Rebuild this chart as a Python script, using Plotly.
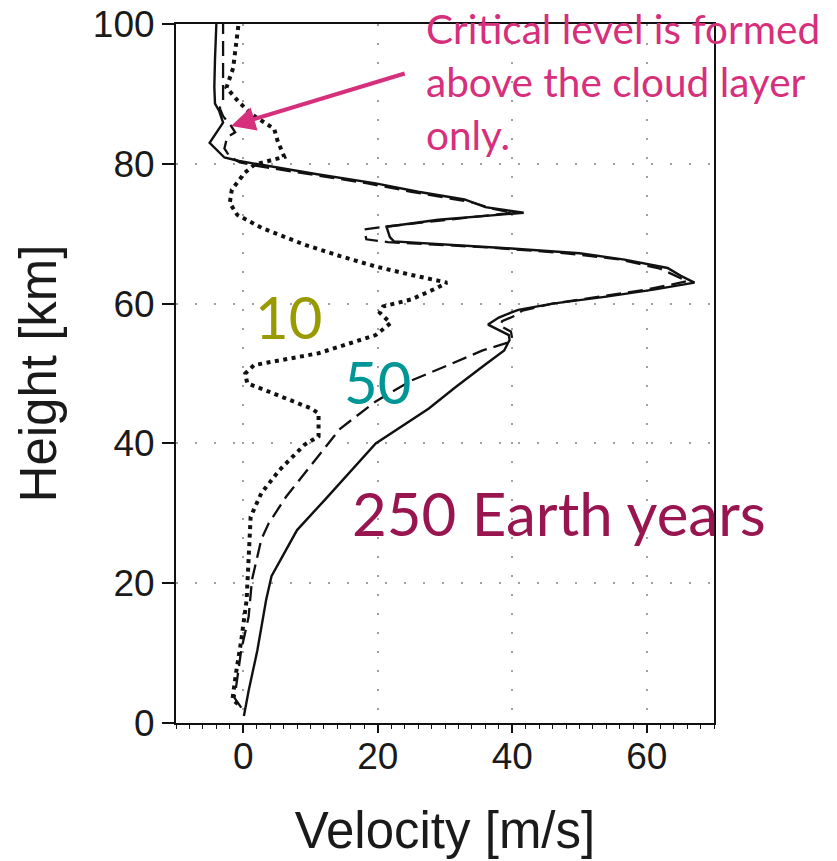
import plotly.graph_objects as go

# Zonal wind profiles (velocity in m/s vs height in km) after 10, 50 and 250 Earth years
h_10 = [2.7, 3.4, 7.0, 11.8, 17.6, 22.4, 27.2, 29.5, 32.9, 36.2, 39.8, 41.0, 44.3, 45.0,
        47.4, 48.6, 50.0, 51.2, 52.9, 55.5, 57.2, 58.7, 59.6, 60.6, 62.2, 63.0, 64.1,
        65.3, 66.8, 68.4, 70.8, 72.7, 74.4, 76.3, 78.7, 79.9, 81.0, 83.3, 85.0, 87.1,
        89.0, 90.9, 93.7, 99.5, 100.0]
v_10 = [-0.8, -1.6, -1.1, -0.3, 0.5, 0.8, 1.1, 1.1, 2.7, 5.4, 9.1, 11.2, 11.2, 10.1,
        3.8, 0.6, 0.3, 1.6, 11.2, 19.7, 21.9, 20.3, 20.8, 25.0, 28.7, 30.3, 25.0,
        19.7, 14.4, 9.2, 2.8, -0.9, -2.0, -1.7, 0.2, 1.7, 6.1, 5.1, 4.6, 1.2,
        -0.8, -2.5, -1.5, -0.8, -0.7]

h_50 = [2.2, 3.6, 7.0, 10.4, 15.2, 20.5, 26.3, 28.6, 32.4, 37.6, 42.1, 46.0, 49.0, 51.0,
        53.3, 54.5, 55.0, 56.0, 56.8, 57.5, 58.3, 59.0, 60.0, 61.0, 62.0, 63.2, 65.0,
        66.3, 67.2, 68.0, 68.8, 69.2, 70.6, 71.0, 71.5, 72.3, 73.0, 73.6, 74.5, 75.0,
        76.0, 77.2, 78.5, 79.7, 80.2, 81.0, 82.2, 83.8, 84.5, 85.4, 86.8, 88.0, 89.0,
        92.0, 100.0]
v_50 = [-0.3, -1.3, -0.8, -0.3, 0.8, 1.3, 2.7, 3.8, 6.4, 10.7, 14.4, 19.7, 25.0, 30.0,
        35.6, 39.6, 40.0, 39.8, 38.2, 38.5, 40.5, 41.5, 46.0, 53.0, 60.0, 66.0, 62.0,
        56.0, 48.0, 37.0, 21.5, 18.3, 18.0, 21.0, 26.0, 33.0, 40.0, 37.0, 34.0, 31.0,
        25.0, 18.5, 10.0, 2.0, -0.5, -2.0, -2.8, -2.4, -1.2, -1.8, -3.0, -3.5, -3.0,
        -3.0, -3.0]

h_250 = [1.0, 4.6, 10.4, 17.6, 21.0, 24.8, 27.6, 32.0, 36.0, 40.0, 45.0, 48.0, 51.0,
         53.3, 54.8, 55.5, 57.0, 58.0, 58.7, 59.1, 60.0, 61.0, 62.0, 63.0, 64.0, 65.1,
         66.3, 67.2, 68.0, 68.9, 69.5, 71.0, 72.0, 73.0, 73.8, 74.9, 76.0, 77.2, 78.5,
         79.9, 80.4, 80.9, 83.0, 85.9, 87.6, 88.6, 91.0, 95.0, 100.0]
v_250 = [0.1, 0.8, 2.1, 3.4, 4.2, 6.4, 8.0, 12.2, 16.0, 19.7, 27.6, 31.5, 35.6,
         38.8, 39.6, 39.5, 36.4, 38.0, 39.8, 40.9, 46.0, 54.0, 61.0, 67.1, 65.0, 63.1,
         56.7, 50.0, 38.0, 22.4, 21.8, 21.3, 29.0, 41.7, 36.0, 32.9, 26.0, 19.7, 11.0,
         2.3, -0.6, -2.8, -5.0, -3.0, -3.6, -4.2, -4.3, -4.2, -4.0]

x_ticks = [0, 20, 40, 60]
y_ticks = [0, 20, 40, 60, 80, 100]

PINK = "#D62F7C"
INK = "#111111"

fig = go.Figure()
fig.add_trace(go.Scatter(x=v_10, y=h_10, mode="lines", name="10",
                         line=dict(color=INK, width=4, dash="4px,4.5px")))
fig.add_trace(go.Scatter(x=v_50, y=h_50, mode="lines", name="50",
                         line=dict(color=INK, width=2.3, dash="15px,7px")))
fig.add_trace(go.Scatter(x=v_250, y=h_250, mode="lines", name="250",
                         line=dict(color=INK, width=2.4)))

axis_font = dict(family="Liberation Sans, Arial, sans-serif", size=37, color="#1a1a1a")
title_font = dict(family="Liberation Sans, Arial, sans-serif", size=51, color="#1a1a1a")
grid = dict(showgrid=True, gridcolor="#a0a0a0", gridwidth=2, griddash="2px,17px",
            zeroline=False, showline=True, linecolor=INK, linewidth=2, mirror=True,
            ticks="outside", tickcolor=INK, tickwidth=2, tickfont=axis_font,
            automargin=False)

fig.update_xaxes(range=[-10, 70], tickvals=x_ticks, ticklen=8, ticklabelstandoff=-8,
                 title=dict(text="Velocity [m/s]", font=title_font, standoff=36),
                 minor=dict(ticks="outside", dtick=2, ticklen=4, tickcolor=INK,
                            tickwidth=1, showgrid=False),
                 **grid)
fig.update_yaxes(range=[0, 100], tickvals=y_ticks, ticklen=12,
                 title=dict(text="Height [km]", font=title_font, standoff=20),
                 **grid)

label_font = "Lato, Noto Sans, sans-serif"
fig.add_annotation(x=6.7, y=58.1, text="10", showarrow=False,
                   font=dict(family=label_font, size=58, color="#999900"))
fig.add_annotation(x=20.0, y=48.9, text="50", showarrow=False,
                   font=dict(family=label_font, size=58, color="#009696"))
fig.add_annotation(x=47.0, y=30.1, text="250 Earth years", showarrow=False,
                   font=dict(family=label_font, size=60, color="#99154F"))

note_lines = ["Critical level is formed", "above the cloud layer", "only."]
for i, line in enumerate(note_lines):
    fig.add_annotation(xref="paper", yref="paper", x=(424 - 176) / 538,
                       y=(723 - (29 + 52.5 * i)) / 699, xanchor="left", yanchor="middle",
                       text=line, showarrow=False,
                       font=dict(family=label_font, size=40.5, color=PINK))

# arrow pointing at the critical level
fig.add_annotation(x=-1.8, y=85.4, ax=175, ay=-53, text="", showarrow=True,
                   arrowhead=2, arrowsize=1.2, arrowwidth=4, arrowcolor=PINK, standoff=0)

fig.update_layout(width=837, height=861, showlegend=False,
                  margin=dict(l=176, r=123, t=24, b=138),
                  paper_bgcolor="white", plot_bgcolor="white")

fig.write_html("out.html")
